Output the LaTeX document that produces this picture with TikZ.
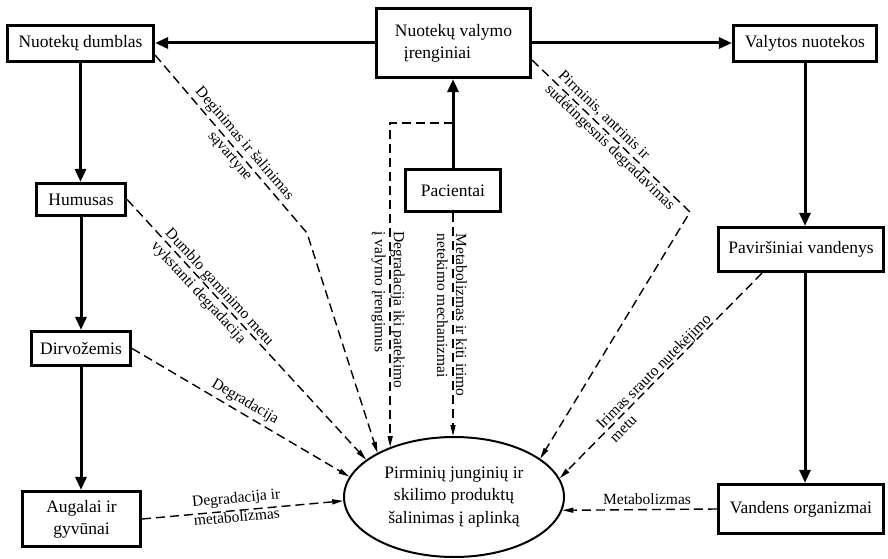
\documentclass[tikz,border=0pt]{standalone}
\usepackage{fontspec}
\setmainfont{Liberation Serif}
\usetikzlibrary{arrows.meta,shapes.geometric}
\begin{document}
\begin{tikzpicture}[x=1pt,y=-1pt,
  box/.style={draw, line width=3.2pt, inner sep=0pt, align=center,
    font=\fontsize{17.5}{22}\selectfont},
  flow/.style={line width=3pt, -{Triangle[length=13pt,width=11pt]}},
  dflow/.style={line width=1.4pt, dash pattern=on 9pt off 5pt,
    -{Triangle[length=11pt,width=5pt]}},
  lab/.style={font=\fontsize{15.5}{19}\selectfont, inner sep=0pt, align=left},
]
\useasboundingbox (0,0) rectangle (888,559);

% boxes
\node[box, minimum width=146pt, minimum height=36pt] (dumblas) at (80.5,43.5) {Nuotekų dumblas};
\node[box, minimum width=154pt, minimum height=69pt, align=left] (valymo) at (453.5,43) {Nuotekų valymo\\\hspace*{9pt}įrenginiai};
\node[box, minimum width=143pt, minimum height=36pt] (valytos) at (805,43.5) {Valytos nuotekos};
\node[box, minimum width=89pt, minimum height=32pt] (humusas) at (81,199.5) {Humusas};
\node[box, minimum width=95pt, minimum height=42pt] (pacientai) at (453,190.5) {Pacientai};
\node[box, minimum width=165pt, minimum height=44pt] (pavirs) at (801,249.5) {Paviršiniai vandenys};
\node[box, minimum width=99pt, minimum height=34pt] (dirvo) at (81,348.5) {Dirvožemis};
\node[box, minimum width=118pt, minimum height=55pt] (augalai) at (81.5,519) {Augalai ir\\gyvūnai};
\node[box, minimum width=165pt, minimum height=49pt] (vandens) at (801,509) {Vandens organizmai};
\node[draw, ellipse, line width=2pt, minimum width=220pt, minimum height=120pt, inner sep=0pt,
  align=center, font=\fontsize{17.5}{22.5}\selectfont] (ell) at (454,497)
  {Pirminių junginių ir\\skilimo produktų\\šalinimas į aplinką};

% helper points
\coordinate (jy) at (0,123);
\coordinate (j) at (pacientai.north |- jy);
\coordinate (bend1) at (307,233);
\coordinate (bend2) at (690,212);

% main flows
\draw[flow] (valymo.west) -- (valymo.west -| dumblas.east);
\draw[flow] (valymo.east) -- (valymo.east -| valytos.west);
\draw[flow] (dumblas.south) -- (dumblas.south |- humusas.north);
\draw[flow] (humusas.south) -- (humusas.south |- dirvo.north);
\draw[flow] (dirvo.south) -- (dirvo.south |- augalai.north);
\draw[flow] (pacientai.north) -- (pacientai.north |- valymo.south);
\draw[flow] (valytos.south) -- (valytos.south |- pavirs.north);
\draw[flow] (valytos.south |- pavirs.south) -- (valytos.south |- vandens.north);

% releases to the environment
\draw[dflow] ([yshift=8pt]dumblas.south east) -- (bend1) -- (ell.150.9);
\draw[dflow] (humusas.east) -- (ell.157.9);
\draw[dflow] (dirvo.east) -- (ell.169.4);
\draw[dflow] (augalai.east) -- (ell.182);
\draw[dflow] (j) -- (j -| ell.142.7) -- (ell.142.7);
\draw[dflow] (pacientai.south) -- (pacientai.south |- ell.north);
\draw[dflow] ([yshift=19pt]valymo.south east) -- (bend2) -- (ell.24.4);
\draw[dflow] ([xshift=-39pt]pavirs.south) -- (ell.10.2);
\draw[dflow] (vandens.west) -- (ell.353.65);

% labels
\node[lab, align=center, rotate=-49.5] (l1) at (237,150) {Deginimas ir šalinimas\\sąvartyne};
\node[lab, rotate=-47.4] (l2) at (212,294) {Dumblo gaminimo metu\\vykstanti degradacija};
\node[lab, rotate=-30.6] (l3) at (245,402) {Degradacija};
\node[lab, rotate=5.4] (l4) at (237,507) {Degradacija ir\\metabolizmas};
\node[lab, rotate=-90] (l5) at (388,310) {Degradacija iki patekimo\\į valymo įrengimus};
\node[lab, rotate=-90] (l6) at (452,315) {Metabolizmas ir kiti irimo\\netekimo mechanizmai};
\node[lab, rotate=-43.9] (l7) at (616,141) {Pirminis, antrinis ir\\sudėtingesnis degradavimas};
\node[lab, rotate=45] (l8) at (660,378) {Irimas srauto nutekėjimo\\metu};
\node[lab] (l9) at (647,499) {Metabolizmas};
\end{tikzpicture}
\end{document}
